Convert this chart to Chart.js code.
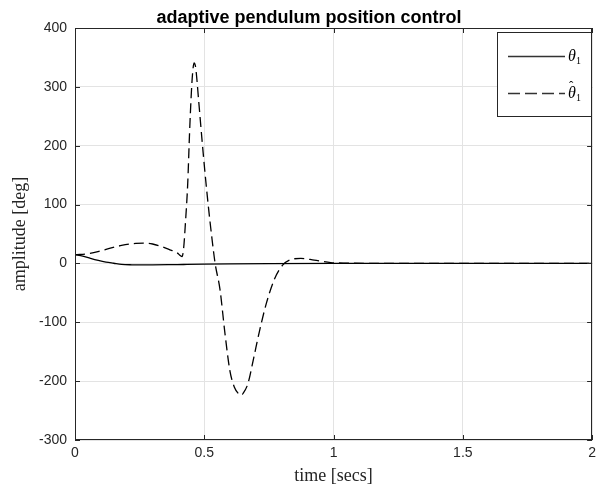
<!DOCTYPE html>
<html>
<head>
<meta charset="utf-8">
<script src="https://cdn.jsdelivr.net/npm/chart.js@4"></script>
<style>
html,body{margin:0;padding:0;background:#fff;}
#wrap{width:601px;height:489px;position:relative;}
</style>
</head>
<body>
<div id="wrap"><canvas id="c" width="601" height="489"></canvas></div>
<script>
// ---- data ----
const chartTitle = "adaptive pendulum position control";
const xTitle = "time [secs]";
const yTitle = "amplitude [deg]";
const seriesNames = ["\u03B8\u2081", "\u03B8\u0302\u2081"];
const xTicks = [0, 0.5, 1, 1.5, 2];
const yTicks = [-300, -200, -100, 0, 100, 200, 300, 400];

const tTheta = [0, 0.03, 0.06, 0.09, 0.12, 0.15, 0.18, 0.22, 0.26, 0.30, 0.36, 0.42, 0.5, 0.6, 0.75, 1.0, 1.5, 2.0];
const theta  = [15, 12.5, 8.5, 5, 2.2, 0.3, -1.5, -2.3, -2.6, -2.5, -2.2, -1.8, -1.3, -0.8, -0.3, 0, 0, 0];

const tHat = [0, 0.056, 0.1, 0.133, 0.18, 0.235, 0.27, 0.30, 0.335, 0.363, 0.395, 0.408, 0.414, 0.42, 0.427, 0.436, 0.443, 0.450, 0.456, 0.461, 0.465, 0.469, 0.478, 0.490, 0.503, 0.516, 0.529, 0.542, 0.561, 0.580, 0.599, 0.616, 0.634, 0.642, 0.650, 0.669, 0.689, 0.714, 0.740, 0.772, 0.803, 0.829, 0.874, 0.925, 0.989, 1.05, 1.2, 1.5, 2.0];
const thetaHat = [14.5, 17, 21.5, 25.5, 30.5, 34, 34.5, 33, 28.5, 23.8, 18, 13, 11.5, 25, 68, 136, 221, 290, 329, 340.5, 337, 324, 278, 216, 153, 96, 45, 0, -45, -119, -182, -210, -222, -224, -221, -204, -165, -114, -68, -26, -3, 5.6, 8.5, 5.6, 1.5, 0.5, 0, 0, 0];

const toXY = (xs, ys) => xs.map((x, i) => ({x: x, y: ys[i]}));

const SANS = "'Liberation Sans', Arial, sans-serif";
const SERIF = "'Liberation Serif', 'DejaVu Serif', serif";

const framePlugin = {
  id: 'frame',
  afterDraw(chart) {
    const ctx = chart.ctx, a = chart.chartArea;
    const xs = chart.scales.x, ys = chart.scales.y;
    ctx.save();
    ctx.strokeStyle = '#262626';
    ctx.lineWidth = 1;
    ctx.strokeRect(Math.round(a.left) + 0.5, Math.round(a.top) + 0.5, Math.round(a.right - a.left) - 1, Math.round(a.bottom - a.top) - 1);
    const tl = 5;
    ctx.beginPath();
    xTicks.forEach(v => {
      const px = Math.round(xs.getPixelForValue(v)) + 0.5;
      ctx.moveTo(px, a.bottom); ctx.lineTo(px, a.bottom - tl);
      ctx.moveTo(px, a.top); ctx.lineTo(px, a.top + tl);
    });
    yTicks.forEach(v => {
      const py = Math.round(ys.getPixelForValue(v)) + 0.5;
      ctx.moveTo(a.left, py); ctx.lineTo(a.left + tl, py);
      ctx.moveTo(a.right, py); ctx.lineTo(a.right - tl, py);
    });
    ctx.stroke();

    // title
    ctx.fillStyle = '#000';
    ctx.font = "bold 18px " + SANS;
    ctx.textAlign = 'center';
    ctx.textBaseline = 'alphabetic';
    ctx.fillText(chartTitle, 309, 23);

    // axis titles
    ctx.font = "18px " + SERIF;
    ctx.fillStyle = '#262626';
    ctx.fillText(xTitle, (a.left + a.right) / 2, 481);
    ctx.save();
    ctx.translate(20, (a.top + a.bottom) / 2);
    ctx.rotate(-Math.PI / 2);
    ctx.textBaseline = 'middle';
    ctx.fillText(yTitle, 0, 0);
    ctx.restore();

    // legend
    const lx = 497, ly = 32, lw = 94, lh = 84;
    ctx.fillStyle = '#fff';
    ctx.fillRect(lx, ly, lw, lh);
    ctx.strokeStyle = '#262626';
    ctx.lineWidth = 1;
    ctx.strokeRect(lx + 0.5, ly + 0.5, lw, lh);
    const rows = [56, 93];
    const dashes = [[], [12, 5]];
    rows.forEach((ry, i) => {
      ctx.beginPath();
      ctx.setLineDash(dashes[i]);
      ctx.strokeStyle = '#333';
      ctx.lineWidth = 1.3;
      ctx.moveTo(508, ry + 0.5); ctx.lineTo(565, ry + 0.5);
      ctx.stroke();
      ctx.setLineDash([]);
      ctx.fillStyle = '#000';
      ctx.textAlign = 'left';
      ctx.textBaseline = 'alphabetic';
      ctx.font = "italic 16px " + SERIF;
      ctx.fillText("\u03B8", 568, ry + 5);
      if (i === 1) {
        ctx.font = "13px " + SERIF;
        ctx.fillText("\u02C6", 569, ry - 3);
      }
      ctx.font = "10px " + SERIF;
      ctx.fillText("1", 576, ry + 8);
    });
    ctx.restore();
  }
};

new Chart(document.getElementById('c'), {
  type: 'line',
  data: {
    datasets: [
      {
        label: seriesNames[0],
        data: toXY(tTheta, theta),
        borderColor: '#000',
        borderWidth: 1.3,
        pointRadius: 0,
        cubicInterpolationMode: 'monotone',
        fill: false
      },
      {
        label: seriesNames[1],
        data: toXY(tHat, thetaHat),
        borderColor: '#000',
        borderWidth: 1.3,
        borderDash: [10, 5],
        pointRadius: 0,
        cubicInterpolationMode: 'monotone',
        fill: false
      }
    ]
  },
  options: {
    responsive: false,
    animation: false,
    devicePixelRatio: 1,
    layout: { padding: { left: 0, right: 4, top: 28, bottom: 0 } },
    plugins: { legend: { display: false }, title: { display: false }, tooltip: { enabled: false } },
    scales: {
      x: {
        type: 'linear', min: 0, max: 2,
        afterBuildTicks(s) { s.ticks = xTicks.map(v => ({value: v})); },
        afterFit(s) { s.height = 49; },
        grid: { color: '#e3e3e3', drawTicks: false },
        border: { display: false },
        ticks: { padding: 5, color: '#262626', font: { family: SANS, size: 14 }, maxRotation: 0,
                 callback: v => String(v) }
      },
      y: {
        type: 'linear', min: -300, max: 400,
        afterBuildTicks(s) { s.ticks = yTicks.map(v => ({value: v})); },
        afterFit(s) { s.width = 75; },
        grid: { color: '#e3e3e3', drawTicks: false },
        border: { display: false },
        ticks: { padding: 8, color: '#262626', font: { family: SANS, size: 14 }, callback: v => String(v) }
      }
    }
  },
  plugins: [framePlugin]
});
</script>
</body>
</html>
